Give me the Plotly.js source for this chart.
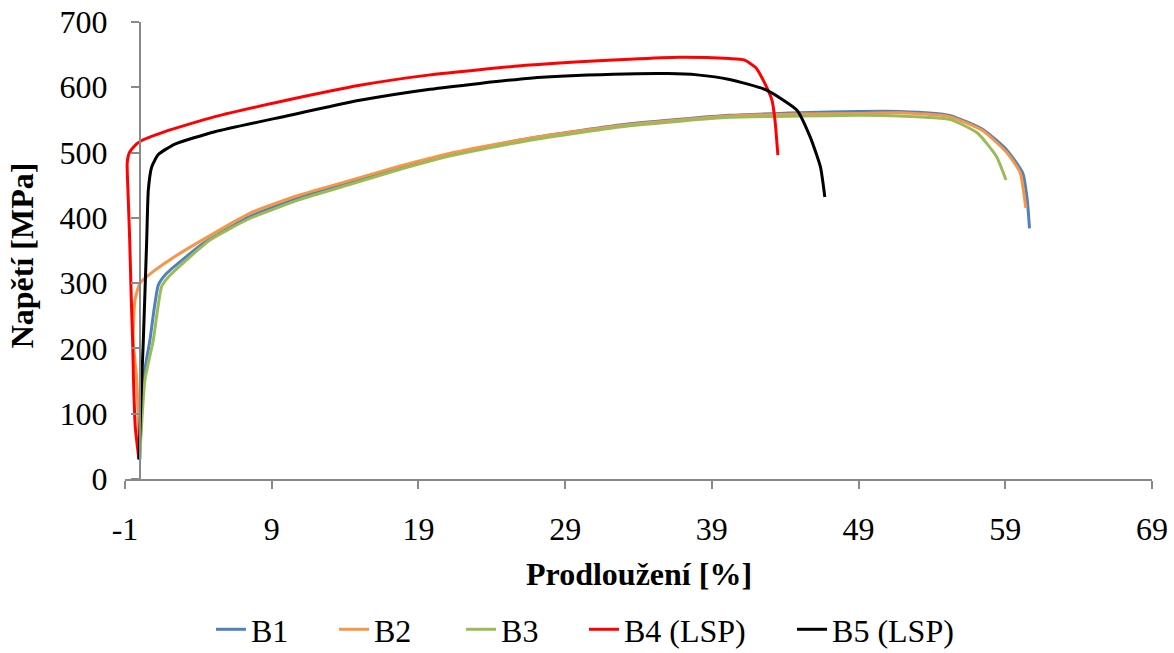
<!DOCTYPE html>
<html>
<head>
<meta charset="utf-8">
<script src="https://cdn.plot.ly/plotly-3.0.1.min.js"></script>
<style>html,body{margin:0;padding:0;background:#fff;}#chart{width:1174px;height:653px;}</style>
</head>
<body>
<div id="chart"></div>
<script>
const seriesNames = ["B1", "B2", "B3", "B4 (LSP)", "B5 (LSP)"];

const b1X = [0.0, 0.25, 0.7, 1.27, 1.84, 3.2, 4.34, 7.5, 10.9, 14.3, 17.7, 21.2, 26.6, 33.4, 40.2, 45, 49, 51.8, 55.2, 57.5, 59.1, 60.2, 60.5, 60.65];
const b1Y = [30, 152, 213, 297, 315, 341, 361, 402, 431, 454, 477, 498, 522, 544, 557, 561, 563, 563, 557, 535, 504, 468, 427, 384];

const b2X = [0.0, -0.2, -0.44, -0.32, 0.02, 0.93, 2.07, 4.11, 7.5, 10.9, 14.3, 17.7, 21.2, 26.6, 33.4, 40.2, 45, 49, 51.8, 55.2, 57.5, 59.1, 60.0, 60.4];
const b2Y = [30, 152, 213, 274, 300, 318, 336, 364, 407, 435, 457, 479, 499, 522, 543, 556, 559, 560, 561, 555, 533, 500, 470, 415];

const b3X = [0.0, 0.36, 0.93, 1.5, 2.07, 4.79, 7.5, 10.9, 14.3, 17.7, 21.2, 26.6, 33.4, 40.2, 45, 49, 51.8, 55.2, 57.1, 58.4, 59.05];
const b3Y = [30, 152, 213, 295, 312, 366, 399, 428, 451, 474, 495, 519, 541, 554, 556, 557, 556, 551, 530, 494, 458];

const b4X = [-0.05, -0.3, -0.42, -0.48, -0.57, -0.68, -0.8, -0.85, -0.7, -0.4, 0.02, 1.72, 5.13, 10, 15, 19.8, 26.6, 33.4, 36.8, 40.2, 41.2, 42.0, 42.5, 43.1, 43.3, 43.5];
const b4Y = [30, 80, 152, 213, 274, 366, 443, 484, 500, 509, 517, 532, 555, 580, 603, 619, 634, 643, 646, 644, 642, 630, 611, 580, 550, 496];

const b5X = [-0.05, 0.14, 0.25, 0.48, 0.59, 0.82, 1.27, 2.4, 5.13, 10, 15, 19.8, 26.6, 32.3, 36, 38, 40.2, 42.7, 44.8, 45.7, 46.4, 46.7];
const b5Y = [30, 152, 213, 366, 443, 478, 497, 513, 532, 556, 580, 597, 614, 620, 621, 619, 612, 596, 565, 524, 478, 432];

const xTickVals = [-1, 9, 19, 29, 39, 49, 59, 69];
const xTickLabels = ["-1", "9", "19", "29", "39", "49", "59", "69"];
const yTickStep = 100;

const colors = ["#4F81BD", "#F79646", "#9BBB59", "#FF0000", "#000000"];
const xs = [b1X, b2X, b3X, b4X, b5X];
const ys = [b1Y, b2Y, b3Y, b4Y, b5Y];

const font = "Liberation Serif, Times New Roman, serif";
const fs = 32;

// one legend box per series, so the entries can sit where the original places them
const legendIds = ["legend", "legend2", "legend3", "legend4", "legend5"];
const legendX = [0.0837, 0.2035, 0.3272, 0.4469, 0.6495];

const traces = seriesNames.map((n, i) => ({
  type: "scatter",
  mode: "lines",
  name: n,
  legend: legendIds[i],
  x: xs[i],
  y: ys[i],
  line: {color: colors[i], width: 3, shape: "spline", smoothing: 0.5}
}));

const layout = {
  width: 1174,
  height: 653,
  margin: {l: 125, r: 22, t: 22, b: 174},
  paper_bgcolor: "#ffffff",
  plot_bgcolor: "#ffffff",
  font: {family: font, size: fs, color: "#000"},
  showlegend: true,
  xaxis: {
    range: [-1, 69],
    tickmode: "array",
    tickvals: xTickVals,
    ticktext: xTickLabels,
    showgrid: false,
    zeroline: false,
    showline: true,
    linecolor: "#898989",
    linewidth: 1.5,
    ticks: "outside",
    ticklen: 8,
    tickcolor: "#898989",
    tickwidth: 1.5,
    ticklabelstandoff: 13,
    tickfont: {family: font, size: fs, color: "#000"}
  },
  yaxis: {
    range: [0, 700],
    dtick: yTickStep,
    anchor: "free",
    position: 1 / 70,
    showgrid: false,
    zeroline: false,
    showline: true,
    linecolor: "#898989",
    linewidth: 1.5,
    ticks: "outside",
    ticklen: 8,
    tickcolor: "#898989",
    tickwidth: 1.5,
    ticklabelstandoff: 17,
    tickfont: {family: font, size: fs, color: "#000"}
  },
  annotations: [
    {text: "<b>Prodloužení [%]</b>", xref: "paper", yref: "paper", x: 0.5, y: -0.207,
     xanchor: "center", yanchor: "middle", showarrow: false, font: {family: font, size: fs, color: "#000"}},
    {text: "<b>Napětí [MPa]</b>", xref: "paper", yref: "paper", x: -0.1, y: 0.49,
     xanchor: "center", yanchor: "middle", textangle: -90, showarrow: false, font: {family: font, size: fs, color: "#000"}}
  ]
};

legendIds.forEach((id, i) => {
  layout[id] = {
    orientation: "h",
    x: legendX[i], xanchor: "left",
    yref: "container",
    y: 0.036, yanchor: "middle",
    bgcolor: "rgba(0,0,0,0)",
    font: {family: font, size: fs, color: "#000"}
  };
});

Plotly.newPlot("chart", traces, layout, {displayModeBar: false, responsive: false});
</script>
</body>
</html>
